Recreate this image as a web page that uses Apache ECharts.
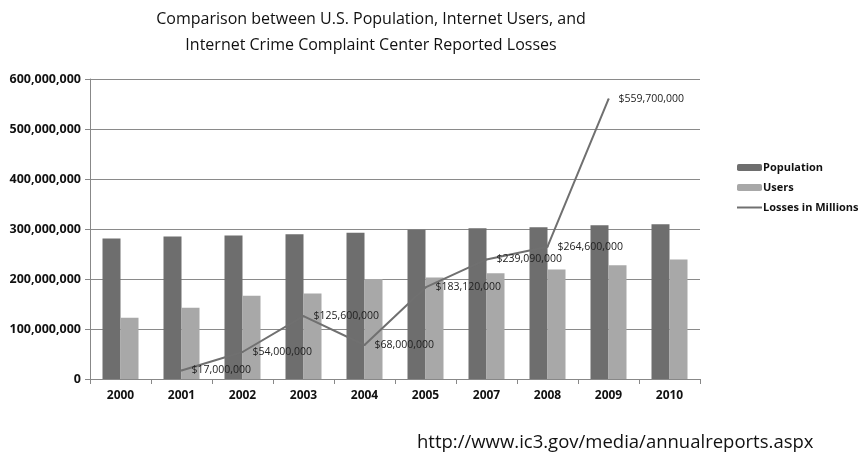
<!DOCTYPE html>
<html><head><meta charset="utf-8">
<script src="https://cdn.jsdelivr.net/npm/echarts@6/dist/echarts.min.js"></script>
<style>html,body{margin:0;padding:0;background:#fff;}#c{width:860px;height:454px;}</style>
</head><body><div id="c"></div>
<script>
const years = ['2000','2001','2002','2003','2004','2005','2007','2008','2009','2010'];
const population = [281000000, 285000000, 287000000, 289500000, 292700000, 298600000, 301500000, 303500000, 307500000, 309500000];
const users = [122700000, 142700000, 166700000, 171000000, 200000000, 203200000, 211700000, 219000000, 227700000, 239000000];
const losses = [null, 17000000, 54000000, 125600000, 68000000, 183120000, 239090000, 264600000, 559700000, null];
const titleText = 'Comparison between U.S. Population, Internet Users, and\nInternet Crime Complaint Center Reported Losses';
const sourceText = 'http://www.ic3.gov/media/annualreports.aspx';

function commas(v){ return String(Math.round(v)).replace(/\B(?=(\d{3})+(?!\d))/g, ','); }
const FONT = '"Open Sans", "Noto Sans", sans-serif';
const chart = echarts.init(document.getElementById('c'), null, {renderer:'canvas'});
chart.setOption({
  backgroundColor:'#fff',
  animation:false,
  textStyle:{fontFamily:FONT},
  title:[{
    text:titleText, left:366, top:1, textAlign:'center',
    textStyle:{fontFamily:FONT, fontSize:16, fontWeight:'normal', color:'#111', lineHeight:26}
  },{
    text:sourceText, left:412, top:428,
    textStyle:{fontFamily:FONT, fontSize:18.5, fontWeight:'normal', color:'#111'}
  }],
  legend:{
    orient:'vertical', left:732, top:157, itemWidth:25, itemHeight:7, itemGap:9,
    textStyle:{fontFamily:FONT, fontSize:11, fontWeight:'bold', color:'#111', padding:[0,0,0,-4]},
    data:['Population','Users',{name:'Losses in Millions', icon:'path://M0,0 L25,0 L25,2 L0,2 Z'}]
  },
  grid:{left:90, right:160, top:79, bottom:75},
  xAxis:{
    type:'category', data:years,
    axisLine:{lineStyle:{color:'#888'}},
    axisTick:{show:true, length:5, lineStyle:{color:'#888'}},
    axisLabel:{fontFamily:FONT, fontSize:12, fontWeight:'bold', color:'#111', margin:11}
  },
  yAxis:{
    type:'value', min:0, max:600000000, interval:100000000,
    axisLine:{show:true, lineStyle:{color:'#888'}},
    axisTick:{show:true, length:5, lineStyle:{color:'#888'}},
    splitLine:{lineStyle:{color:'#8a8a8a'}},
    axisLabel:{fontFamily:FONT, fontSize:12.5, fontWeight:'bold', color:'#111', margin:9, formatter:v=>commas(v)}
  },
  series:[
    {name:'Population', type:'bar', data:population, barWidth:18, barGap:'0%', itemStyle:{color:'#6e6e6e'}},
    {name:'Users', type:'bar', data:users, barWidth:18, barGap:'0%', itemStyle:{color:'#a8a8a8'}},
    {name:'Losses in Millions', type:'line', data:losses, symbol:'circle', symbolSize:2, showSymbol:true, connectNulls:false,
     lineStyle:{color:'#707070', width:2}, itemStyle:{color:'#707070'},
     label:{show:true, position:'right', distance:9, fontFamily:FONT, fontSize:10.5, color:'#222',
       formatter:p=>'$'+commas(p.value)}
    }
  ]
});
</script></body></html>
